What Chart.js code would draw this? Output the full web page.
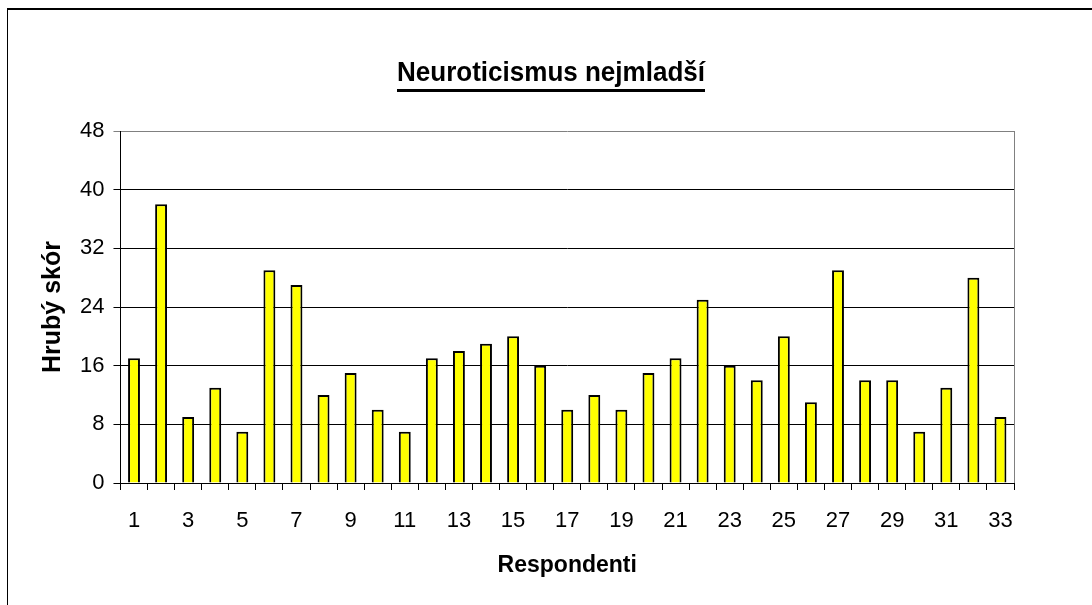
<!DOCTYPE html>
<html>
<head>
<meta charset="utf-8">
<script src="https://cdn.jsdelivr.net/npm/chart.js@4"></script>
<style>
  body { margin: 0; background: #fff; }
  #wrap { position: relative; width: 1092px; height: 605px; overflow: hidden; }
  #frame { position: absolute; left: 7px; top: 8px; width: 1200px; height: 700px;
           border-top: 2px solid #000; border-left: 1px solid #000; }
  #chart { position: absolute; left: 0; top: 0; }
</style>
</head>
<body>
<div id="wrap">
  <div id="frame"></div>
  <canvas id="chart" width="1092" height="605"></canvas>
</div>
<script>
//Chart texts
const chartTitle = 'Neuroticismus nejmladší';
const xTitle = 'Respondenti';
const yTitle = 'Hrubý skór';

//Respondents 1..33 and their raw scores
const respondents = ['1','2','3','4','5','6','7','8','9','10','11','12','13','14','15','16','17',
    '18','19','20','21','22','23','24','25','26','27','28','29','30','31','32','33'];
const scores = [17, 38, 9, 13, 7, 29, 27, 12, 15, 10, 7, 17, 18, 19, 20, 16, 10,
    12, 10, 15, 17, 25, 16, 14, 20, 11, 29, 14, 14, 7, 13, 28, 9];

//Y axis range
const yMin = 0;
const yMax = 48;
const yStep = 8;

//Drawing the underlined title and the grey right edge of the plot
const extras = {
    id: 'extras',
    afterDraw(chart) {
        const ctx = chart.ctx;
        const area = chart.chartArea;
        ctx.save();
        ctx.strokeStyle = '#808080';
        ctx.lineWidth = 1;
        ctx.beginPath();
        ctx.moveTo(area.right + 0.5, area.top);
        ctx.lineTo(area.right + 0.5, area.bottom);
        ctx.stroke();

        ctx.font = 'bold 28px "Liberation Sans", Arial, sans-serif';
        ctx.fillStyle = '#000';
        ctx.textAlign = 'center';
        ctx.textBaseline = 'alphabetic';
        const cx = 551;
        const w = ctx.measureText(chartTitle).width;
        const sx = 308 / w;
        ctx.translate(cx, 81);
        ctx.scale(sx, 1);
        ctx.fillText(chartTitle, 0, 0);
        ctx.fillRect(-w / 2, 8, w, 3);
        ctx.restore();
    }
};

const ctx = document.getElementById('chart').getContext('2d');

const myChart = new Chart(ctx, {
    type: 'bar',
    data: {
        labels: respondents,
        datasets: [{
            data: scores,
            backgroundColor: '#ffff00',
            borderColor: '#000000',
            borderWidth: 2,
            barPercentage: 0.44,
            categoryPercentage: 1
        }]
    },
    options: {
        responsive: false,
        animation: false,
        layout: {
            padding: { top: 131, right: 78, bottom: 26, left: 20 }
        },
        plugins: {
            legend: { display: false },
            tooltip: { enabled: false }
        },
        scales: {
            x: {
                grid: {
                    offset: true,
                    drawOnChartArea: false,
                    tickLength: 7,
                    color: '#000'
                },
                border: { color: '#000', width: 1 },
                ticks: {
                    autoSkip: false,
                    maxRotation: 0,
                    padding: 17.5,
                    color: '#000',
                    font: { family: '"Liberation Sans", Arial, sans-serif', size: 22 },
                    callback: function(val, i) {
                        return i % 2 === 0 ? respondents[i] : '';
                    }
                },
                title: {
                    display: true,
                    text: xTitle,
                    color: '#000',
                    padding: { top: 0, bottom: 0 },
                    font: { family: '"Liberation Sans", Arial, sans-serif', size: 23, weight: 'bold' }
                }
            },
            y: {
                min: yMin,
                max: yMax,
                grid: {
                    tickLength: 7,
                    color: (c) => c.tick && c.tick.value === yMax ? '#808080' : '#000'
                },
                border: { color: '#000', width: 1 },
                ticks: {
                    stepSize: yStep,
                    padding: 9,
                    color: '#000',
                    font: { family: '"Liberation Sans", Arial, sans-serif', size: 22 }
                },
                title: {
                    display: true,
                    text: yTitle,
                    color: '#000',
                    padding: { top: 18, bottom: 3 },
                    font: { family: '"Liberation Sans", Arial, sans-serif', size: 25, weight: 'bold' }
                }
            }
        }
    },
    plugins: [extras]
});
</script>
</body>
</html>
